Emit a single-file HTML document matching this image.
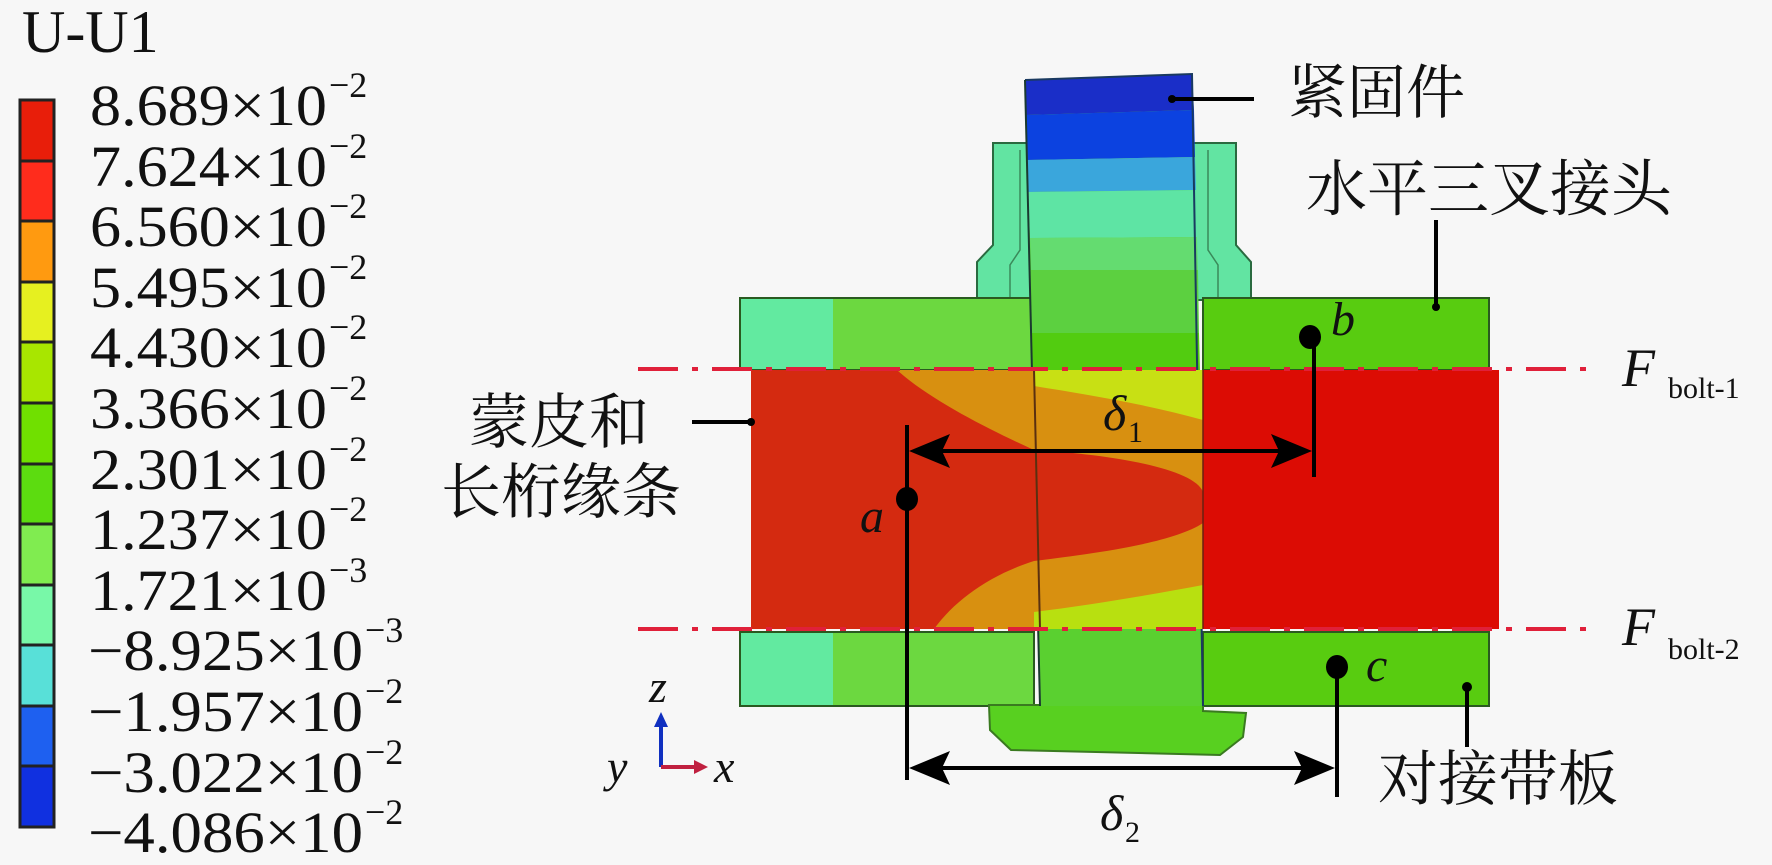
<!DOCTYPE html>
<html><head><meta charset="utf-8"><style>
html,body{margin:0;padding:0;background:#f7f7f7;}
svg{display:block;}
.t{font-family:"Liberation Serif","Noto Serif CJK SC",serif;fill:#111;}
.c{font-family:"Liberation Serif","Noto Serif CJK SC","Noto Sans CJK SC",serif;fill:#111;}
.i{font-family:"Liberation Serif",serif;font-style:italic;fill:#111;}
</style></head><body>
<svg width="1772" height="865" viewBox="0 0 1772 865" xmlns="http://www.w3.org/2000/svg">
<rect width="1772" height="865" fill="#f7f7f7"/>
<!-- legend -->
<text class="t" x="22" y="52" font-size="60">U-U1</text>
<g stroke="#222" stroke-width="3">
<rect x="20" y="100" width="34" height="61" fill="#e81e0a"/>
<rect x="20" y="161" width="34" height="60" fill="#ff2c1c"/>
<rect x="20" y="221" width="34" height="61" fill="#ff9a10"/>
<rect x="20" y="282" width="34" height="60" fill="#e6f020"/>
<rect x="20" y="342" width="34" height="61" fill="#a8e600"/>
<rect x="20" y="403" width="34" height="61" fill="#70e000"/>
<rect x="20" y="464" width="34" height="60" fill="#5cdc10"/>
<rect x="20" y="524" width="34" height="61" fill="#80ec50"/>
<rect x="20" y="585" width="34" height="60" fill="#78f8a8"/>
<rect x="20" y="645" width="34" height="61" fill="#58e0d8"/>
<rect x="20" y="706" width="34" height="60" fill="#1e60f0"/>
<rect x="20" y="766" width="34" height="61" fill="#1030e0"/>
</g>
<g class="t" font-size="58">
<text x="90" y="125" textLength="237" lengthAdjust="spacingAndGlyphs">8.689×10</text><text x="329" y="97" font-size="36">−2</text>
<text x="90" y="186" textLength="237" lengthAdjust="spacingAndGlyphs">7.624×10</text><text x="329" y="158" font-size="36">−2</text>
<text x="90" y="246" textLength="237" lengthAdjust="spacingAndGlyphs">6.560×10</text><text x="329" y="218" font-size="36">−2</text>
<text x="90" y="307" textLength="237" lengthAdjust="spacingAndGlyphs">5.495×10</text><text x="329" y="279" font-size="36">−2</text>
<text x="90" y="367" textLength="237" lengthAdjust="spacingAndGlyphs">4.430×10</text><text x="329" y="339" font-size="36">−2</text>
<text x="90" y="428" textLength="237" lengthAdjust="spacingAndGlyphs">3.366×10</text><text x="329" y="400" font-size="36">−2</text>
<text x="90" y="489" textLength="237" lengthAdjust="spacingAndGlyphs">2.301×10</text><text x="329" y="461" font-size="36">−2</text>
<text x="90" y="549" textLength="237" lengthAdjust="spacingAndGlyphs">1.237×10</text><text x="329" y="521" font-size="36">−2</text>
<text x="90" y="610" textLength="237" lengthAdjust="spacingAndGlyphs">1.721×10</text><text x="329" y="582" font-size="36">−3</text>
<text x="88" y="670" textLength="275" lengthAdjust="spacingAndGlyphs">−8.925×10</text><text x="365" y="642" font-size="36">−3</text>
<text x="88" y="731" textLength="275" lengthAdjust="spacingAndGlyphs">−1.957×10</text><text x="365" y="703" font-size="36">−2</text>
<text x="88" y="792" textLength="275" lengthAdjust="spacingAndGlyphs">−3.022×10</text><text x="365" y="764" font-size="36">−2</text>
<text x="88" y="852" textLength="275" lengthAdjust="spacingAndGlyphs">−4.086×10</text><text x="365" y="824" font-size="36">−2</text>
</g>

<!-- collar -->
<path d="M993,143 L1236,143 L1236,245 L1251,262 L1251,300 L977,300 L977,262 L993,245 Z" fill="#62e4a2" stroke="#2a6a40" stroke-width="2"/>
<path d="M1010,300 L1010,265 L1020,250 L1020,150 M1218,300 L1218,265 L1208,250 L1208,150" fill="none" stroke="#3a8a5a" stroke-width="1.5"/>

<!-- top plates -->
<rect x="740" y="298" width="294" height="72" fill="#6cd840" stroke="#2a5a20" stroke-width="2"/>
<rect x="741" y="299" width="92" height="70" fill="#62eaa0"/>
<rect x="1203" y="298" width="286" height="72" fill="#58cc10" stroke="#2a5a20" stroke-width="2"/>
<!-- bottom plates -->
<rect x="740" y="632" width="294" height="74" fill="#6cd840" stroke="#2a5a20" stroke-width="2"/>
<rect x="741" y="633" width="92" height="72" fill="#62eaa0"/>
<rect x="1203" y="632" width="286" height="74" fill="#58cc10" stroke="#2a5a20" stroke-width="2"/>

<!-- bolt end -->
<path d="M989,705 L990,730 L1011,750 L1220,755 L1243,737 L1246,713 L1203,711 L1203,705 Z" fill="#58d020" stroke="#3a7a20" stroke-width="2"/>

<!-- bolt shaft -->
<path d="M1025,80 L1192,74 L1203,706 L1040,706 Z" fill="#5ad030"/>
<path d="M1025,80 L1192,74 L1194,110 L1026,115 Z" fill="#1a2ec8"/>
<path d="M1026,115 L1194,110 L1195,157 L1027,160 Z" fill="#0c42e0"/>
<path d="M1027,160 L1195,157 L1196,190 L1028,192 Z" fill="#3aa6dc"/>
<path d="M1028,192 L1196,190 L1197,237 L1030,238 Z" fill="#5ee4a4"/>
<path d="M1030,238 L1197,237 L1198,270 L1031,270 Z" fill="#64dc70"/>
<path d="M1031,270 L1198,270 L1199,333 L1032,333 Z" fill="#5cd040"/>
<path d="M1032,333 L1199,333 L1200,371 L1033,371 Z" fill="#52cc10"/>
<path d="M1025,80 L1192,74 L1203,706" fill="none" stroke="#1a3a60" stroke-width="2"/>
<path d="M1025,80 L1040,706" fill="none" stroke="#1a3a30" stroke-width="2"/>

<!-- skin -->
<rect x="751" y="370" width="452" height="259" fill="#d42a10"/>
<rect x="1034" y="370" width="169" height="259" fill="#d89010"/>
<path d="M1034,370 L1203,370 L1203,420 C1150,405 1090,395 1034,386 Z" fill="#c8e014"/>
<path d="M1034,629 L1203,629 L1203,585 C1150,595 1090,605 1034,612 Z" fill="#b8e010"/>
<path d="M897,370 L1034,370 L1034,450 C990,430 930,400 897,370 Z" fill="#d89010"/>
<path d="M934,629 L1034,629 L1034,561 C990,575 955,600 934,629 Z" fill="#d89010"/>
<path d="M1034,450 C1120,455 1195,470 1203,492 L1203,523 C1170,545 1080,555 1034,561 Z" fill="#d42a10"/>
<rect x="1203" y="370" width="296" height="259" fill="#dc0c04"/>
<line x1="1034" y1="370" x2="1040" y2="629" stroke="#5a3010" stroke-width="2"/>
<line x1="1203" y1="370" x2="1203" y2="629" stroke="#6a2010" stroke-width="1.5"/>

<!-- dash-dot lines -->
<g stroke="#e0203a" stroke-width="4" stroke-dasharray="40,14,6,14" fill="none">
<line x1="638" y1="369" x2="1600" y2="369"/>
<line x1="638" y1="629" x2="1600" y2="629"/>
</g>

<!-- leaders & dims -->
<g stroke="#000" stroke-width="4" fill="none">
<line x1="1172" y1="99" x2="1254" y2="99"/>
<line x1="1436" y1="220" x2="1436" y2="307"/>
<line x1="692" y1="422" x2="751" y2="422"/>
<line x1="907" y1="425" x2="907" y2="780"/>
<line x1="1314" y1="337" x2="1314" y2="477"/>
<line x1="1337" y1="667" x2="1337" y2="797"/>
<line x1="1467" y1="687" x2="1467" y2="747"/>
<line x1="940" y1="451" x2="1280" y2="451"/>
<line x1="940" y1="768" x2="1304" y2="768"/>
</g>
<g fill="#000">
<circle cx="1172" cy="99" r="4"/>
<circle cx="1436" cy="307" r="4"/>
<circle cx="751" cy="422" r="4"/>
<circle cx="1467" cy="687" r="5"/>
<ellipse cx="907" cy="499" rx="11" ry="12"/>
<ellipse cx="1310" cy="337" rx="11" ry="12"/>
<ellipse cx="1337" cy="667" rx="11" ry="12"/>
<path d="M909,451 L950,434 L942,451 L950,468 Z"/>
<path d="M1312,451 L1271,434 L1279,451 L1271,468 Z"/>
<path d="M909,768 L950,751 L942,768 L950,785 Z"/>
<path d="M1335,768 L1294,751 L1302,768 L1294,785 Z"/>
</g>

<!-- axes -->
<line x1="661" y1="767" x2="661" y2="725" stroke="#1030c0" stroke-width="4"/>
<path d="M661,712 L654,727 L668,727 Z" fill="#1030c0"/>
<line x1="661" y1="767" x2="696" y2="767" stroke="#c02040" stroke-width="4"/>
<path d="M708,767 L694,760 L694,774 Z" fill="#c02040"/>

<!-- labels -->
<text class="c" x="1288" y="113" font-size="59">紧固件</text>
<text class="c" x="1306" y="210" font-size="61">水平三叉接头</text>
<text class="c" x="469" y="443" font-size="60">蒙皮和</text>
<text class="c" x="441" y="513" font-size="60">长桁缘条</text>
<text class="c" x="1378" y="800" font-size="60">对接带板</text>
<text class="i" x="1331" y="335" font-size="48">b</text>
<text class="i" x="860" y="532" font-size="48">a</text>
<text class="i" x="1366" y="681" font-size="48">c</text>
<text class="i" x="1103" y="430" font-size="50">δ</text><text class="t" x="1128" y="442" font-size="30">1</text>
<text class="i" x="1100" y="830" font-size="50">δ</text><text class="t" x="1125" y="842" font-size="30">2</text>
<text class="i" x="1622" y="386" font-size="54">F</text><text class="t" x="1668" y="398" font-size="30">bolt-1</text>
<text class="i" x="1622" y="645" font-size="54">F</text><text class="t" x="1668" y="659" font-size="30">bolt-2</text>
<text class="i" x="649" y="702" font-size="46">z</text>
<text class="i" x="607" y="782" font-size="46">y</text>
<text class="i" x="714" y="782" font-size="46">x</text>
</svg>
</body></html>
